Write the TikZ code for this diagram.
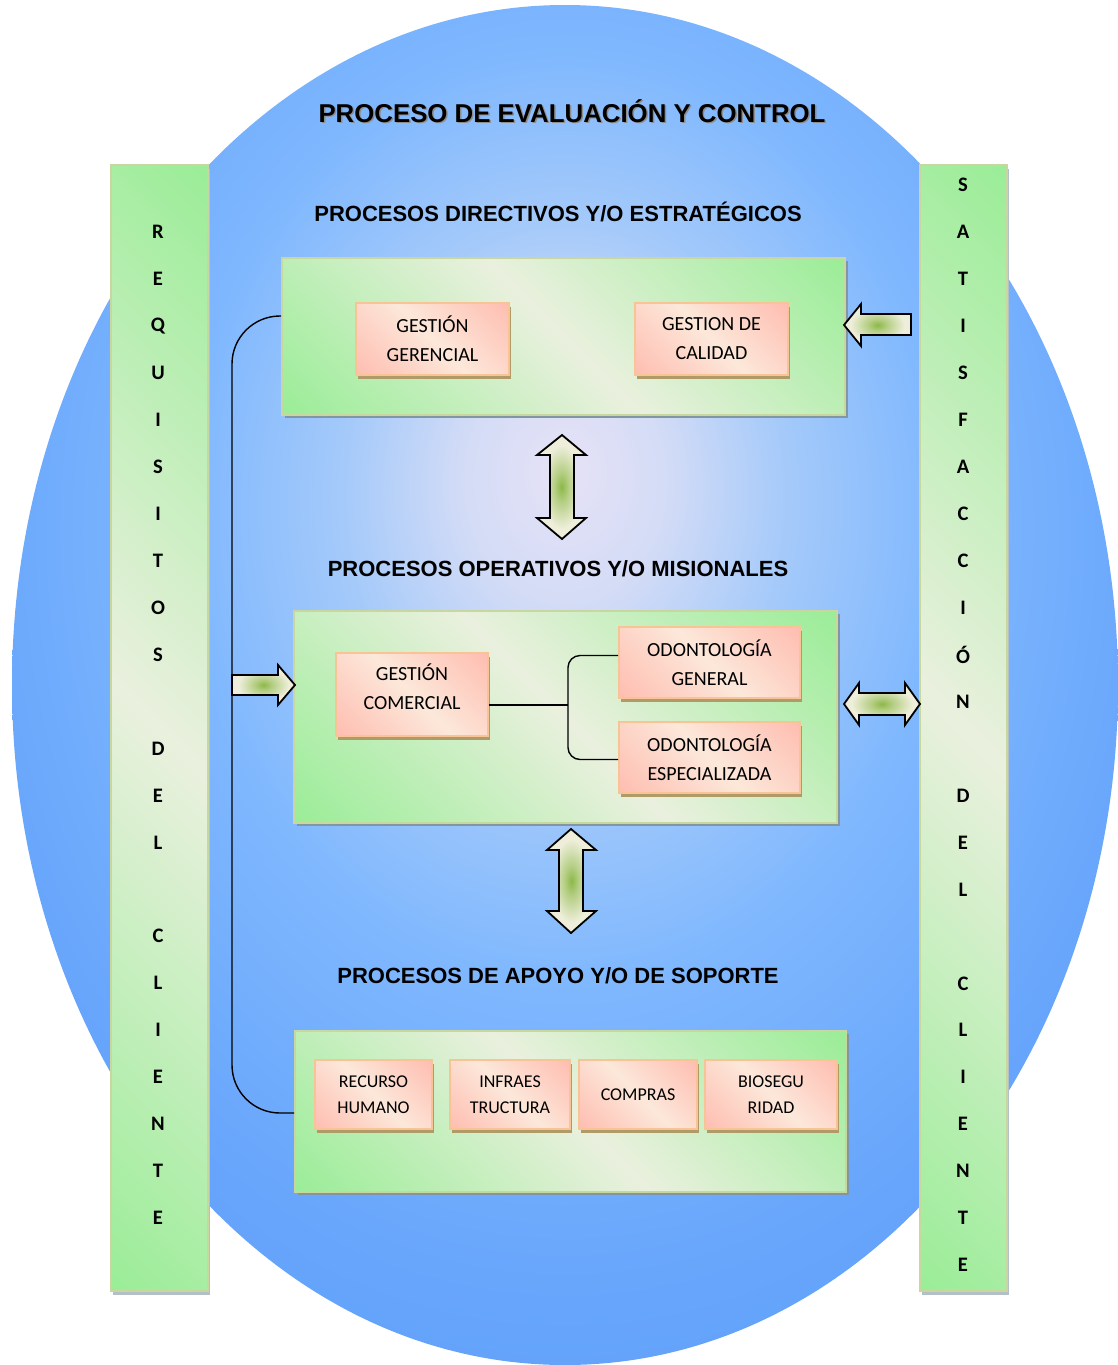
\documentclass[tikz,border=0pt]{standalone}
\usepackage{fontspec}
\setmainfont{Carlito}
\newfontfamily\arialf{Liberation Sans}
\usetikzlibrary{fit,shadows}
\definecolor{gG}{RGB}{128,236,128}
\definecolor{gL}{RGB}{234,240,222}
\definecolor{pP}{RGB}{255,170,158}
\definecolor{pL}{RGB}{252,232,218}
\definecolor{bdG}{RGB}{200,214,160}
\definecolor{bdP}{RGB}{248,196,150}
\definecolor{shG}{RGB}{128,150,160}
\definecolor{shP}{RGB}{176,154,104}
\definecolor{aG}{RGB}{141,184,72}
\definecolor{aB}{RGB}{238,238,218}
\definecolor{eA}{RGB}{230,226,246}
\definecolor{eB}{RGB}{212,220,246}
\definecolor{eC}{RGB}{165,202,250}
\definecolor{eD}{RGB}{128,184,254}
\definecolor{eE}{RGB}{104,166,252}
\definecolor{eF}{RGB}{91,155,248}
\pgfdeclareradialshading{ellsh}{\pgfpoint{0bp}{8bp}}{color(0bp)=(eA); color(4.5bp)=(eB); color(10bp)=(eC); color(17bp)=(eD); color(27bp)=(eE); color(38bp)=(eF); color(75bp)=(eF)}
\pgfdeclareverticalshading{gdiag}{150bp}{color(0bp)=(gG); color(28bp)=(gG); color(75bp)=(gL); color(122bp)=(gG); color(150bp)=(gG)}
\pgfdeclareverticalshading{pdiag}{150bp}{color(0bp)=(pP); color(24bp)=(pP); color(75bp)=(pL); color(126bp)=(pP); color(150bp)=(pP)}
\pgfdeclareradialshading{arrsh}{\pgfpoint{0bp}{0bp}}{color(0bp)=(aG); color(7bp)=(aG!60!aB); color(20bp)=(aB); color(75bp)=(aB)}
\tikzset{
  gbox/.style={draw=bdG, line width=1pt, shade, shading=gdiag, shading angle=-45, inner sep=0pt,
    general shadow={fill=shG, shadow xshift=1.5pt, shadow yshift=-1.5pt}},
  barbox/.style={draw=bdG, line width=1pt, shade, shading=gdiag, shading angle=-45, inner sep=0pt,
    general shadow={fill=shG!60!white, shadow xshift=1pt, shadow yshift=-2pt}},
  pbox/.style={draw=bdP, line width=0.8pt, shade, shading=pdiag, shading angle=-45, inner sep=0pt,
    align=center, font=\fontsize{10}{14.5}\selectfont,
    general shadow={fill=shP, shadow xshift=1.2pt, shadow yshift=-1.8pt}},
  pboxs/.style={pbox, font=\fontsize{9}{13}\selectfont},
  sectitle/.style={font=\arialf\bfseries\fontsize{11}{13}\selectfont, inner sep=0pt},
  maintitle/.style={font=\arialf\bfseries\fontsize{12.9}{15}\selectfont, inner sep=0pt},
  barletter/.style={font=\bfseries\fontsize{10.3}{12}\selectfont, inner sep=0pt},
  conn/.style={draw=black, line width=0.7pt},
  blockarrow/.style={draw=black, line width=0.9pt, shading=arrsh, line join=miter},
}
\begin{document}
\begin{tikzpicture}[x=0.5pt,y=-0.5pt]
\useasboundingbox (0,0) rectangle (1118,1365);
\fill[white] (0,0) rectangle (1118,1365);
% background ellipse
\shade[shading=ellsh] (565,685) ellipse [x radius=276.5pt, y radius=340pt];

% side bars
\node (lbar) [barbox, fit={(111,165)(208,1291)}] {};
\node (rbar) [barbox, fit={(920,165)(1007,1291)}] {};
\foreach \l/\k in {R/0,E/1,Q/2,U/3,I/4,S/5,I/6,T/7,O/8,S/9,D/11,E/12,L/13,C/15,L/16,I/17,E/18,N/19,T/20,E/21}
  \node (ll\k) [barletter] at (158,{232+46.95*\k}) {\l};
\foreach \l/\k in {S/0,A/1,T/2,I/3,S/4,F/5,A/6,C/7,C/8,I/9,Ó/10,N/11,D/13,E/14,L/15,C/17,L/18,I/19,E/20,N/21,T/22,E/23}
  \node (rl\k) [barletter] at (963,{185+46.96*\k}) {\l};

% titles
\node (titlesh) [maintitle, text=black!45] at (573.5,112.5) {PROCESO DE EVALUACIÓN Y CONTROL};
\node (title) [maintitle] at (572,111) {PROCESO DE EVALUACIÓN Y CONTROL};
\node (t1) [sectitle] at (558,212) {PROCESOS DIRECTIVOS Y/O ESTRATÉGICOS};
\node (t2) [sectitle] at (558,569) {PROCESOS OPERATIVOS Y/O MISIONALES};
\node (t3) [sectitle] at (558,976) {PROCESOS DE APOYO Y/O DE SOPORTE};

% green process boxes
\node (b1) [gbox, fit={(282,258)(845,415)}] {};
\node (b2) [gbox, fit={(294,611)(837,823)}] {};
\node (b3) [gbox, fit={(295,1031)(846,1192)}] {};

% pink boxes
\node (gg) [pbox, minimum width=76.5pt, minimum height=36pt] at (432.5,339) {GESTIÓN\\GERENCIAL};
\node (gcal) [pbox, minimum width=76.5pt, minimum height=36pt] at (711.5,339) {GESTION DE\\CALIDAD};
\node (gc) [pbox, minimum width=76pt, minimum height=41.5pt] at (412,694.5) {GESTIÓN\\COMERCIAL\\[-6.5pt]\mbox{}};
\node (og) [pbox, minimum width=90.5pt, minimum height=35.5pt] at (709.5,662.5) {ODONTOLOGÍA\\GENERAL};
\node (oe) [pbox, minimum width=90.5pt, minimum height=35.5pt] at (709.5,757.5) {ODONTOLOGÍA\\ESPECIALIZADA};
\node (rh) [pboxs, minimum width=58.5pt, minimum height=34.5pt] at (373.5,1094.5) {RECURSO\\HUMANO};
\node (inf) [pboxs, minimum width=60pt, minimum height=34.5pt] at (510,1094.5) {INFRAES\\TRUCTURA};
\node (com) [pboxs, minimum width=59pt, minimum height=34.5pt] at (638,1094.5) {COMPRAS};
\node (bio) [pboxs, minimum width=66pt, minimum height=34.5pt] at (771,1094.5) {BIOSEGU\\RIDAD};

% connectors
\coordinate (ya) at (0,316);
\coordinate (yb) at (0,1113);
\coordinate (xv) at (232,0);
\draw[conn, rounded corners=24pt] (b1.west |- ya) -| (xv |- yb) -- (b3.west |- yb);
\coordinate (bj) at (568,705);
\draw[conn] (gc.east |- bj) -- (bj);
\draw[conn, rounded corners=6pt] ([yshift=3.5pt]og.west) -| (bj) |- ([yshift=-1pt]oe.west);

% block arrows
\shade[blockarrow] (844,325) -- (861,304) -- (861,314) -- (911,314) -- (911,335) -- (861,335) -- (861,346) -- cycle;
\shade[blockarrow] (562,435) -- (586,455) -- (574,455) -- (574,518) -- (586,518) -- (562,539) -- (537,518) -- (550,518) -- (550,455) -- (537,455) -- cycle;
\shade[blockarrow] (232,675) -- (278,675) -- (278,665) -- (295,685) -- (278,705) -- (278,695) -- (232,695) -- cycle;
\shade[blockarrow] (844,704) -- (859,683) -- (859,693) -- (905,693) -- (905,683) -- (920,704) -- (905,725) -- (905,715) -- (859,715) -- (859,725) -- cycle;
\shade[blockarrow] (571,829) -- (596,850) -- (583,850) -- (583,911) -- (596,911) -- (571,933) -- (547,911) -- (559,911) -- (559,850) -- (547,850) -- cycle;
\end{tikzpicture}
\end{document}
